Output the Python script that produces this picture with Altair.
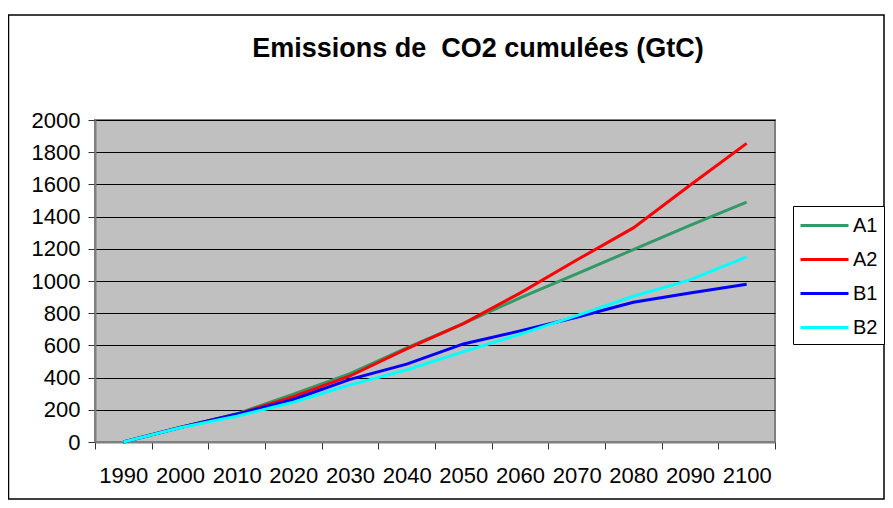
import altair as alt
import pandas as pd

# ---- data ----
years = [1990, 2000, 2010, 2020, 2030, 2040, 2050, 2060, 2070, 2080, 2090, 2100]
a1 = [0, 90, 175, 297, 425, 585, 735, 895, 1045, 1195, 1345, 1490]
a2 = [0, 90, 172, 282, 410, 578, 735, 925, 1130, 1330, 1595, 1855]
b1 = [0, 90, 172, 264, 389, 484, 609, 690, 775, 868, 925, 980]
b2 = [0, 88, 160, 247, 355, 447, 561, 669, 785, 905, 1007, 1150]
series = ["A1", "A2", "B1", "B2"]
colors = ["#339966", "#FF0000", "#0000FF", "#00FFFF"]
y_ticks = [0, 200, 400, 600, 800, 1000, 1200, 1400, 1600, 1800, 2000]
chart_title = "Emissions de \u00a0CO2 cumulées (GtC)"

FONT = "Liberation Sans"

rows = []
for name, vals in zip(series, [a1, a2, b1, b2]):
    for yr, v in zip(years, vals):
        rows.append({"year": yr, "value": v, "series": name})
df = pd.DataFrame(rows)

lines = alt.Chart(df).mark_line(strokeWidth=3).encode(
    x=alt.X(
        "year:O",
        bandPosition=0.5,
        scale=alt.Scale(type="band", paddingInner=0, paddingOuter=0),
        axis=alt.Axis(
            title=None, labelAngle=0, labelFontSize=22, labelFont=FONT,
            labelColor="black", tickBand="extent", tickSize=7, tickColor="#333333",
            labelPadding=16, domainColor="#808080", domainWidth=2, grid=False,
        ),
    ),
    y=alt.Y(
        "value:Q",
        scale=alt.Scale(domain=[0, 2000], nice=False),
        axis=alt.Axis(
            title=None, values=y_ticks, format="d", labelFontSize=22, labelFont=FONT,
            labelColor="black", labelPadding=8, tickSize=7, tickColor="#333333",
            gridColor="black", gridWidth=1, gridOpacity=1,
            domainColor="#808080", domainWidth=2,
        ),
    ),
    color=alt.Color(
        "series:N",
        scale=alt.Scale(domain=series, range=colors),
        legend=alt.Legend(
            title=None, orient="none", legendX=698, legendY=86,
            strokeColor="black", fillColor="white", padding=6,
            symbolType="M-2,0H2", symbolSize=576, symbolStrokeWidth=3,
            symbolOffset=12, labelOffset=15,
            labelFontSize=20, labelFont=FONT, labelColor="black", rowPadding=10,
        ),
    ),
)

border = alt.Chart(pd.DataFrame({"a": [0]})).mark_rect(
    fillOpacity=0, stroke="black", strokeWidth=1.5
).encode(
    x=alt.value(-86.5), x2=alt.value(789), y=alt.value(-105), y2=alt.value(379)
)

title = alt.Chart(pd.DataFrame({"t": [chart_title]})).mark_text(
    font=FONT, fontSize=27, fontWeight="bold", align="center", baseline="alphabetic",
    color="black",
).encode(text="t:N", x=alt.value(383), y=alt.value(-63))

chart = (
    alt.layer(border, lines, title)
    .properties(
        width=680, height=322, autosize="none",
        padding={"left": 87, "top": 112, "right": 110, "bottom": 58},
        background="white",
    )
    .configure_view(fill="#C0C0C0", stroke="#808080", strokeWidth=2)
)

chart.save("out.html", embed_options={"renderer": "svg", "actions": False})
